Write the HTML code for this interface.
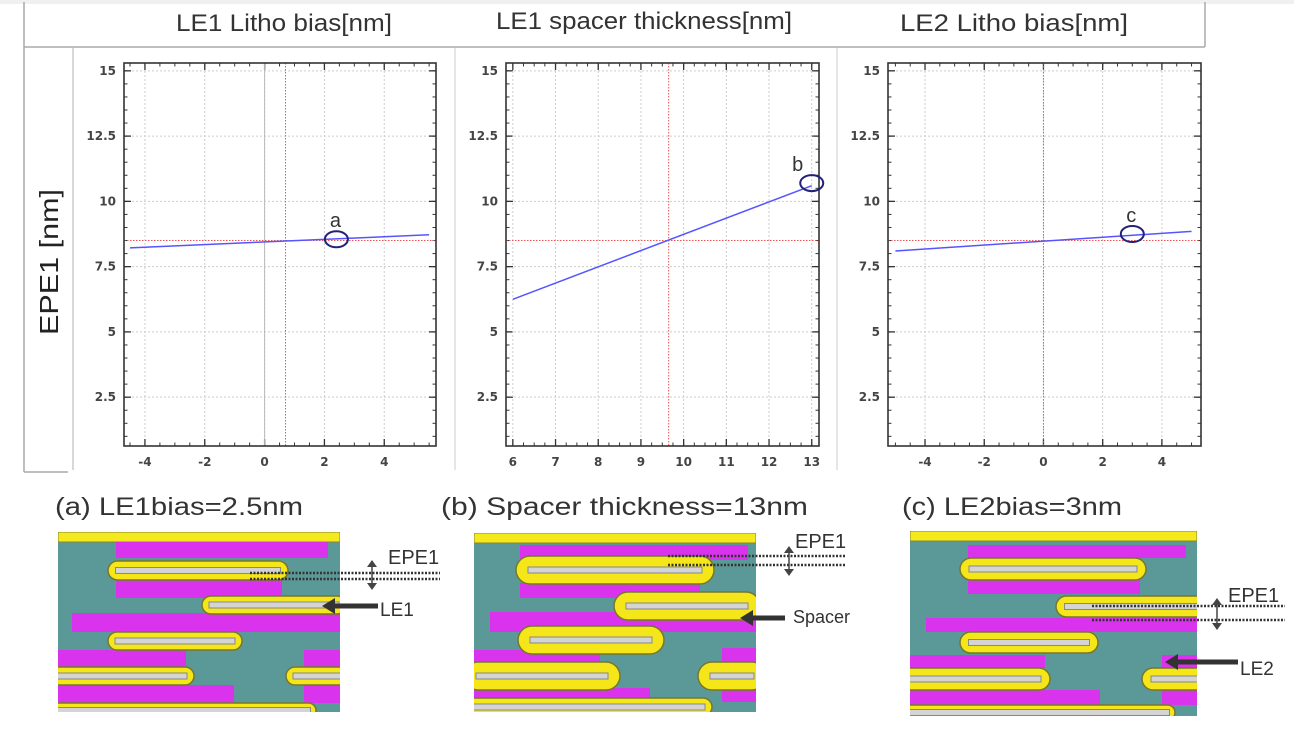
<!DOCTYPE html>
<html><head><meta charset="utf-8"><style>
html,body{margin:0;padding:0;background:#fff;}
svg{display:block;font-family:"Liberation Sans",sans-serif;}
</style></head><body>
<svg id="root" width="1294" height="730" viewBox="0 0 1294 730">
  <rect x="0" y="0" width="1294" height="4" fill="#f0f0f0"/>
  <g stroke="#aaa" fill="none" stroke-width="1.5">
    <line x1="24" y1="2" x2="24" y2="472"/>
    <line x1="24" y1="47" x2="1205" y2="47"/>
    <line x1="1205" y1="2" x2="1205" y2="47"/>
    <line x1="24" y1="472" x2="68" y2="472"/>
    <line x1="73" y1="48" x2="73" y2="470" stroke="#ccc"/>
    <line x1="455" y1="48" x2="455" y2="470" stroke="#ddd"/>
    <line x1="837" y1="48" x2="837" y2="470" stroke="#ddd"/>
  </g>
  <text x="176" y="31" font-size="24" textLength="216" lengthAdjust="spacingAndGlyphs" fill="#333">LE1 Litho bias[nm]</text>
  <text x="496" y="29" font-size="24" textLength="296" lengthAdjust="spacingAndGlyphs" fill="#333">LE1 spacer thickness[nm]</text>
  <text x="900" y="31" font-size="24" textLength="228" lengthAdjust="spacingAndGlyphs" fill="#333">LE2 Litho bias[nm]</text>
  <text transform="translate(58,262) rotate(-90)" font-size="26" textLength="146" lengthAdjust="spacingAndGlyphs" text-anchor="middle" fill="#222">EPE1 [nm]</text>
  <g id="charts"></g>
  <g id="pics"></g>
  <text x="55" y="515" font-size="25" textLength="248" lengthAdjust="spacingAndGlyphs" fill="#333">(a) LE1bias=2.5nm</text>
  <text x="441" y="515" font-size="25" textLength="367" lengthAdjust="spacingAndGlyphs" fill="#333">(b) Spacer thickness=13nm</text>
  <text x="902" y="515" font-size="25" textLength="220" lengthAdjust="spacingAndGlyphs" fill="#333">(c) LE2bias=3nm</text>
</svg>
<script>
// chart data
const yTicks = [2.5, 5, 7.5, 10, 12.5, 15];
const xTicksA = [-4, -2, 0, 2, 4];
const xTicksB = [6, 7, 8, 9, 10, 11, 12, 13];
const xTicksC = [-4, -2, 0, 2, 4];
const lineAx = [-4.5, 5.5];
const lineAy = [8.22, 8.72];
const lineBx = [6, 13];
const lineBy = [6.25, 10.6];
const lineCx = [-5, 5];
const lineCy = [8.1, 8.85];
const nominalX = [0.7, 9.65, 0];
const nominalY = [8.5, 8.5, 8.5];
const markerX = [2.4, 13, 3];
const markerY = [8.55, 10.7, 8.75];
const markerLabels = ['a', 'b', 'c'];

const NS = 'http://www.w3.org/2000/svg';
function mk(tag, attrs, parent){const e=document.createElementNS(NS,tag);for(const k in attrs)e.setAttribute(k,attrs[k]);parent.appendChild(e);return e;}

const panels = [
 {left:124,right:436,xmin:-4.7,xmax:5.73,ticks:xTicksA,lx:lineAx,ly:lineAy,zero:true,minor:0.5,key:'a'},
 {left:506,right:819,xmin:5.84,xmax:13.17,ticks:xTicksB,lx:lineBx,ly:lineBy,zero:false,minor:0.25,key:'b'},
 {left:888,right:1201,xmin:-5.25,xmax:5.32,ticks:xTicksC,lx:lineCx,ly:lineCy,zero:false,minor:0.5,key:'c'}
];
const plotTop=63,plotBot=446,ymin=0.63,ymax=15.3;
const charts=document.getElementById('charts');
panels.forEach((p,i)=>{
  const sx=v=>p.left+(v-p.xmin)/(p.xmax-p.xmin)*(p.right-p.left);
  const sy=v=>plotBot-(v-ymin)/(ymax-ymin)*(plotBot-plotTop);
  const g=mk('g',{},charts);
  
  
  mk('rect',{x:p.left,y:plotTop,width:p.right-p.left,height:plotBot-plotTop,fill:'#fff'},g);
  yTicks.forEach(t=>{
    const gl=mk('line',{x1:p.left,x2:p.right,y1:sy(t),y2:sy(t),stroke:'#ccc','stroke-dasharray':'2,2','stroke-width':1},g);
    
    
    mk('line',{x1:p.left,x2:p.left+7,y1:sy(t),y2:sy(t),stroke:'#333','stroke-width':1.3},g);
    mk('line',{x1:p.right-7,x2:p.right,y1:sy(t),y2:sy(t),stroke:'#333','stroke-width':1.3},g);
    const tl=mk('text',{x:p.left-8,y:sy(t)+4,'font-size':12,'font-weight':'bold','text-anchor':'end',fill:'#444','font-family':'DejaVu Sans, sans-serif'},g);
    tl.textContent=t;
    
    
  });
  for(let v=Math.ceil(ymin*2)/2;v<ymax;v+=0.5){const yy=sy(v);
    mk('line',{x1:p.left,x2:p.left+3.5,y1:yy,y2:yy,stroke:'#333'},g);
    mk('line',{x1:p.right-3.5,x2:p.right,y1:yy,y2:yy,stroke:'#333'},g);}
  for(let v=Math.ceil(p.xmin/p.minor)*p.minor;v<p.xmax;v+=p.minor){const xx=sx(v);
    mk('line',{x1:xx,x2:xx,y1:plotBot-3.5,y2:plotBot,stroke:'#333'},g);
    mk('line',{x1:xx,x2:xx,y1:plotTop,y2:plotTop+3.5,stroke:'#333'},g);}
  p.ticks.forEach(t=>{
    const gl=mk('line',{x1:sx(t),x2:sx(t),y1:plotTop,y2:plotBot,stroke:'#ccc','stroke-dasharray':'2,2'},g);
    
    
    mk('line',{x1:sx(t),x2:sx(t),y1:plotBot-7,y2:plotBot,stroke:'#333','stroke-width':1.3},g);
    mk('line',{x1:sx(t),x2:sx(t),y1:plotTop,y2:plotTop+7,stroke:'#333','stroke-width':1.3},g);
    const tl=mk('text',{x:sx(t),y:plotBot+20,'font-size':12,'font-weight':'bold','text-anchor':'middle',fill:'#444','font-family':'DejaVu Sans, sans-serif'},g);
    tl.textContent=t;
    
    
  });
  if(p.zero){mk('line',{x1:sx(0),x2:sx(0),y1:plotTop,y2:plotBot,stroke:'#bbb','stroke-width':1},g);}
  const rv=mk('line',{x1:sx(nominalX[i]),x2:sx(nominalX[i]),y1:plotTop,y2:plotBot,stroke:'#e55','stroke-dasharray':'1.5,1.5','stroke-width':1},g);
  
  
  const rh=mk('line',{x1:p.left,x2:p.right,y1:sy(nominalY[i]),y2:sy(nominalY[i]),stroke:'#e55','stroke-dasharray':'1.5,1.5','stroke-width':1},g);
  
  
  const ln=mk('line',{x1:sx(p.lx[0]),y1:sy(p.ly[0]),x2:sx(p.lx[1]),y2:sy(p.ly[1]),stroke:'#5555ff','stroke-width':1.5},g);
  
  
  mk('rect',{x:p.left,y:plotTop,width:p.right-p.left,height:plotBot-plotTop,fill:'none',stroke:'#333','stroke-width':1.6},g);
  const mc=mk('ellipse',{cx:sx(markerX[i]),cy:sy(markerY[i]),rx:11.5,ry:8,fill:'none',stroke:'#22227a','stroke-width':2},g);
  
  
  const ml=mk('text',{x:sx(markerX[i])-(i==1?14:1),y:sy(markerY[i])-12,'font-size':20,'text-anchor':'middle',fill:'#333'},g);
  ml.textContent=markerLabels[i];
  
  
});

// layout pictures (absolute coordinates)
const pics=[
 {key:'a',box:[58,532,340,712],
  mag:[[116,542,328,558],[116,580,282,598],[72,613,340,632],[58,650,186,668],[304,650,340,668],[58,685,234,703],[304,685,340,703]],
  pill:[[108,561,288,580],[202,596,346,614],[108,632,242,650],[48,667,194,685],[286,667,350,685],[48,703,316,718]],
  dot:[250,440,573,579],arr:[372,560,590],epe:[388,564],lab:['LE1',380,616],la:[378,606,322]},
 {key:'b',box:[474,533,756,712],
  mag:[[520,545,748,560],[520,583,700,598],[490,612,756,632],[474,650,600,666],[722,648,756,666],[474,688,650,702],[722,688,756,702]],
  pill:[[516,556,714,584],[614,592,760,620],[518,626,664,654],[464,662,620,690],[698,662,766,690],[464,698,712,716]],
  dot:[668,845,556,565],arr:[789,546,576],epe:[795,548],lab:['Spacer',793,623],la:[785,618,740]},
 {key:'c',box:[910,531,1197,716],
  mag:[[968,545,1186,558],[968,580,1140,594],[926,618,1197,632],[910,655,1045,668],[1162,655,1197,670],[910,690,1100,705],[1162,690,1197,705]],
  pill:[[960,558,1146,580],[1056,596,1207,617],[960,632,1098,653],[900,668,1050,690],[1142,668,1207,690],[900,705,1175,720]],
  dot:[1092,1285,606,620],arr:[1217,598,630],epe:[1228,602],lab:['LE2',1240,675],la:[1238,662,1165]}
];
const pg=document.getElementById('pics');
pics.forEach(P=>{
  const g=mk('g',{},pg);
  
  
  const [x0,y0,x1,y1]=P.box;
  const cid='clip'+P.key;
  const cp=mk('clipPath',{id:cid},g);
  mk('rect',{x:x0,y:y0,width:x1-x0,height:y1-y0},cp);
  const inner=mk('g',{'clip-path':'url(#'+cid+')'},g);
  mk('rect',{x:x0,y:y0,width:x1-x0,height:y1-y0,fill:'#5b9898'},inner);
  mk('rect',{x:x0,y:y0,width:x1-x0,height:10,fill:'#f4e91c',stroke:'#888833'},inner);
  P.mag.forEach(r=>mk('rect',{x:r[0],y:r[1],width:r[2]-r[0],height:r[3]-r[1],fill:'#d933ee'},inner));
  P.pill.forEach(r=>{
    const h=r[3]-r[1];
    mk('rect',{x:r[0],y:r[1],width:r[2]-r[0],height:h,rx:h/2,fill:'#f4e619',stroke:'#77772a','stroke-width':1.5},inner);
    mk('rect',{x:r[0]+h/2-2,y:r[1]+h/2-3,width:r[2]-r[0]-h+4,height:6,fill:'#d4d4d4',stroke:'#888','stroke-width':1},inner);
  });
  const d=P.dot;
  [d[2],d[3]].forEach(yy=>mk('line',{x1:d[0],x2:d[1],y1:yy,y2:yy,stroke:'#333','stroke-width':2.5,'stroke-dasharray':'2,1.5'},g));
  const a=P.arr;
  mk('line',{x1:a[0],x2:a[0],y1:a[1]+5,y2:a[2]-5,stroke:'#444','stroke-width':1.5},g);
  mk('polygon',{points:`${a[0]-5},${a[1]+7} ${a[0]+5},${a[1]+7} ${a[0]},${a[1]}`,fill:'#444'},g);
  mk('polygon',{points:`${a[0]-5},${a[2]-7} ${a[0]+5},${a[2]-7} ${a[0]},${a[2]}`,fill:'#444'},g);
  const et=mk('text',{x:P.epe[0],y:P.epe[1],'font-size':20,fill:'#333'},g);
  et.textContent='EPE1';
  
  
  const la=P.la;
  mk('line',{x1:la[0],x2:la[2]+10,y1:la[1],y2:la[1],stroke:'#333','stroke-width':5},g);
  mk('polygon',{points:`${la[2]+13},${la[1]-8} ${la[2]+13},${la[1]+8} ${la[2]},${la[1]}`,fill:'#333'},g);
  const lt=mk('text',{x:P.lab[1],y:P.lab[2],'font-size':P.key=='b'?18:19,fill:'#333'},g);
  lt.textContent=P.lab[0];
  
  
});
</script>
</body></html>
